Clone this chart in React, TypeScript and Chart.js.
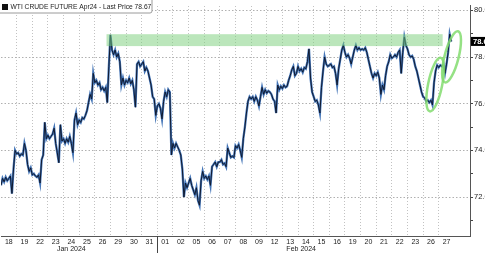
import React, { useEffect, useRef } from 'react';
import { Chart, registerables } from 'chart.js';

Chart.register(...registerables);

// Trading sessions shown on the axis
const dayLabels = ['18', '19', '22', '23', '24', '25', '26', '29', '30', '31', '01', '02', '05', '06', '07', '08', '09', '12', '13', '14', '15', '16', '19', '20', '21', '22', '23', '26', '27'];
const monthLabels = ['Jan 2024', 'Feb 2024'];
const monthLabelAt = [4.5, 19.2];
const monthBreakAt = 10;

const yTicks = [71, 72, 73, 74, 75, 76, 77, 78, 79, 80];
const yMin = 70.33;
const yMax = 80.21;

const titleText = 'WTI CRUDE FUTURE Apr24 - Last Price 78.67';
const lastPrice = 78.67;

// intraday prices, 10 bars per session (last session partial)
const barsPerSession = 10;
const sessionPrices: number[][] = [
  [72.5, 72.8, 72.65, 72.85, 72.7, 72.8, 72.9, 72.15, 73.2, 74.0],
  [73.85, 73.9, 73.75, 73.85, 73.8, 74.3, 74.0, 73.4, 73.1, 73.25],
  [72.95, 73.0, 72.9, 72.85, 72.95, 72.6, 73.6, 73.8, 75.2, 74.5],
  [74.65, 74.5, 74.6, 74.7, 74.95, 74.3, 73.9, 73.47, 75.1, 74.4],
  [74.5, 74.3, 74.5, 74.35, 74.6, 74.3, 73.9, 75.3, 75.6, 75.1],
  [75.3, 75.2, 75.4, 75.35, 75.5, 75.7, 76.05, 76.4, 76.2, 77.3],
  [76.9, 77.0, 76.8, 76.9, 76.6, 76.7, 76.55, 76.7, 76.05, 77.6],
  [78.95, 78.3, 78.1, 78.3, 78.0, 78.15, 77.8, 76.8, 77.1, 76.8],
  [77.0, 76.9, 77.1, 76.85, 77.0, 76.6, 75.85, 77.7, 77.8, 77.6],
  [77.7, 77.8, 77.4, 77.55, 77.4, 77.1, 76.8, 76.3, 76.2, 75.5],
  [75.9, 76.0, 75.8, 75.35, 76.1, 76.5, 76.3, 76.6, 76.5, 73.8],
  [74.3, 74.1, 74.3, 74.15, 74.0, 73.8, 73.2, 72.0, 72.6, 72.4],
  [72.6, 72.8, 72.5, 72.3, 72.1, 72.4, 71.85, 71.65, 72.7, 73.1],
  [72.8, 72.9, 72.75, 72.9, 72.5, 73.3, 73.4, 73.5, 73.3, 73.5],
  [73.5, 73.6, 73.4, 73.45, 73.3, 74.1, 73.9, 73.7, 73.75, 73.7],
  [74.2, 74.1, 74.25, 74.0, 73.7, 74.5, 75.0, 75.6, 76.1, 76.3],
  [76.2, 76.3, 76.1, 76.3, 76.15, 75.9, 76.3, 76.7, 76.4, 76.6],
  [76.45, 76.55, 76.5, 76.4, 76.2, 76.1, 75.6, 76.8, 76.6, 76.75],
  [76.65, 76.8, 76.7, 76.75, 77.0, 77.2, 77.45, 77.6, 77.2, 77.3],
  [77.6, 77.4, 77.5, 77.35, 77.55, 77.5, 77.8, 78.35, 77.1, 76.5],
  [76.3, 76.1, 76.15, 75.95, 75.6, 76.7, 77.4, 78.0, 77.7, 77.6],
  [77.65, 77.7, 77.55, 77.6, 77.3, 76.8, 77.5, 77.9, 78.3, 78.5],
  [78.2, 78.0, 78.1, 77.95, 77.7, 78.0, 78.3, 78.5, 78.3, 78.4],
  [78.3, 78.35, 78.3, 78.4, 78.2, 77.9, 77.6, 77.3, 77.1, 77.3],
  [77.2, 77.35, 77.1, 76.4, 76.8, 76.6, 77.2, 77.6, 77.8, 78.1],
  [77.95, 78.0, 78.1, 78.0, 78.2, 78.3, 77.3, 78.2, 78.85, 78.5],
  [78.35, 78.1, 78.0, 78.05, 77.9, 77.6, 77.4, 77.1, 76.8, 76.5],
  [76.3, 76.25, 76.1, 76.15, 76.05, 76.15, 75.95, 76.9, 77.4, 77.65],
  [77.55, 77.65, 77.6, 77.7, 77.3, 77.7, 78.2, 78.98, 78.67],
];

// highlighted resistance band (session units / price)
const bandFrom = 6.75;
const bandTo = 28.25;
const bandLow = 78.47;
const bandHigh = 78.98;

// circled moves: session position, price, x-radius (sessions), y-radius (price), tilt
const circleCenters = [27.77, 28.82];
const circlePrices = [76.82, 78.01];
const circleRx = [0.45, 0.45];
const circleRy = [1.17, 1.13];
const circleTilt = [0.2, 0.25];

const points: { x: number; y: number }[] = [];
sessionPrices.forEach((session, d) => {
  session.forEach((p, k) => points.push({ x: d + k / barsPerSession, y: p }));
});

const FONT = "'Liberation Sans', Arial, sans-serif";

const overlayPlugin = {
  id: 'overlay',
  afterDatasetsDraw(chart: any) {
    const { ctx } = chart;
    const xs = chart.scales.x;
    const ys = chart.scales.y;
    ctx.save();
    const bx1 = xs.getPixelForValue(bandFrom);
    const bx2 = xs.getPixelForValue(bandTo);
    const by1 = ys.getPixelForValue(bandHigh);
    const by2 = ys.getPixelForValue(bandLow);
    ctx.fillStyle = 'rgba(120, 205, 120, 0.5)';
    ctx.fillRect(bx1, by1, bx2 - bx1, by2 - by1);
    const pxPerX = xs.getPixelForValue(1) - xs.getPixelForValue(0);
    const pxPerY = ys.getPixelForValue(0) - ys.getPixelForValue(1);
    ctx.strokeStyle = 'rgba(130, 220, 110, 0.85)';
    ctx.lineWidth = 2.5;
    circleCenters.forEach((cx, i) => {
      ctx.beginPath();
      ctx.ellipse(
        xs.getPixelForValue(cx),
        ys.getPixelForValue(circlePrices[i]),
        circleRx[i] * pxPerX,
        circleRy[i] * pxPerY,
        circleTilt[i],
        0,
        Math.PI * 2
      );
      ctx.stroke();
    });
    ctx.restore();
  },
  afterDraw(chart: any) {
    const { ctx, chartArea } = chart;
    const xs = chart.scales.x;
    const ys = chart.scales.y;
    ctx.save();
    const mx = Math.round(xs.getPixelForValue(monthBreakAt)) + 0.5;
    ctx.strokeStyle = '#444';
    ctx.lineWidth = 1;
    ctx.beginPath();
    ctx.moveTo(mx, chartArea.bottom);
    ctx.lineTo(mx, chart.height);
    ctx.stroke();
    ctx.fillStyle = '#222';
    ctx.font = `7px ${FONT}`;
    ctx.textAlign = 'center';
    ctx.textBaseline = 'middle';
    monthLabels.forEach((m, i) => {
      ctx.fillText(m, xs.getPixelForValue(monthLabelAt[i]), chartArea.bottom + 13);
    });
    const py = ys.getPixelForValue(lastPrice);
    ctx.fillStyle = '#000';
    ctx.fillRect(chartArea.right + 1, py - 4.5, 20, 9);
    ctx.fillStyle = '#fff';
    ctx.font = `bold 7.5px ${FONT}`;
    ctx.textAlign = 'left';
    ctx.fillText(lastPrice.toFixed(2), chartArea.right + 3, py + 0.5);
    ctx.fillStyle = '#fff';
    ctx.strokeStyle = '#9a9a9a';
    ctx.lineWidth = 1;
    ctx.beginPath();
    (ctx as any).roundRect(-2.5, -2.5, 154.5, 15.5, 2);
    ctx.fill();
    ctx.stroke();
    ctx.fillStyle = '#111';
    ctx.fillRect(2, 4, 6, 6);
    ctx.fillStyle = '#222';
    ctx.font = `6.7px ${FONT}`;
    ctx.textAlign = 'left';
    ctx.textBaseline = 'middle';
    ctx.fillText(titleText, 10.5, 7.5);
    ctx.restore();
  },
};

export default function App() {
  const ref = useRef<HTMLCanvasElement | null>(null);
  useEffect(() => {
    if (!ref.current) return;
    const chart = new Chart(ref.current, {
      type: 'line',
      data: {
        datasets: [
          {
            data: points,
            borderColor: '#101a30',
            borderWidth: 1,
            pointRadius: 0,
            tension: 0,
            order: 0,
          },
          {
            data: points,
            borderColor: '#4576b8',
            borderWidth: 2.3,
            pointRadius: 0,
            tension: 0,
            order: 1,
          },
        ],
      },
      options: {
        animation: false,
        responsive: false,
        parsing: false as any,
        layout: { padding: { left: 1, top: 0, right: 0, bottom: 0 } },
        plugins: { legend: { display: false }, tooltip: { enabled: false } },
        scales: {
          xg: {
            type: 'linear',
            position: 'top',
            min: 0,
            max: 30,
            afterBuildTicks: (s: any) => {
              s.ticks = dayLabels.slice(1).map((_, i) => ({ value: i + 1 }));
            },
            ticks: { display: false },
            grid: { color: '#c2c2c2', lineWidth: 1, drawTicks: false },
            border: { display: false, dash: [1, 2] },
            afterFit: (s: any) => {
              s.height = 0;
            },
          },
          x: {
            type: 'linear',
            position: 'bottom',
            min: 0,
            max: 30,
            afterBuildTicks: (s: any) => {
              s.ticks = dayLabels.map((_, i) => ({ value: i + 0.5 }));
            },
            ticks: {
              autoSkip: false,
              maxRotation: 0,
              padding: 2,
              color: '#222',
              font: { family: FONT, size: 7 },
              callback: (_v: any, i: number) => dayLabels[i],
            },
            grid: { display: false, drawTicks: false, tickLength: 0 },
            border: { display: true, color: '#555', width: 1 },
            afterFit: (s: any) => {
              s.height = 17;
            },
          },
          y: {
            type: 'linear',
            position: 'right',
            min: yMin,
            max: yMax,
            afterBuildTicks: (s: any) => {
              s.ticks = yTicks.map((v) => ({ value: v }));
            },
            ticks: {
              autoSkip: false,
              padding: 1,
              color: '#222',
              font: { family: FONT, size: 7.5 },
              callback: (v: any) => (v % 2 === 0 ? Number(v).toFixed(1) : ''),
            },
            grid: {
              color: (c: any) => (c.tick && c.tick.value % 2 === 0 ? '#b0b0b0' : 'rgba(0,0,0,0)'),
              tickColor: '#444',
              tickLength: 3,
            },
            border: { display: true, color: '#555', width: 1, dash: [1.5, 2] },
            afterFit: (s: any) => {
              s.width = 15;
            },
          },
        },
      } as any,
      plugins: [overlayPlugin],
    });
    return () => chart.destroy();
  }, []);
  return (
    <div style={{ position: 'absolute', left: 0, top: 0, width: 485, height: 253, background: '#fff' }}>
      <canvas ref={ref} width={485} height={253} />
    </div>
  );
}
